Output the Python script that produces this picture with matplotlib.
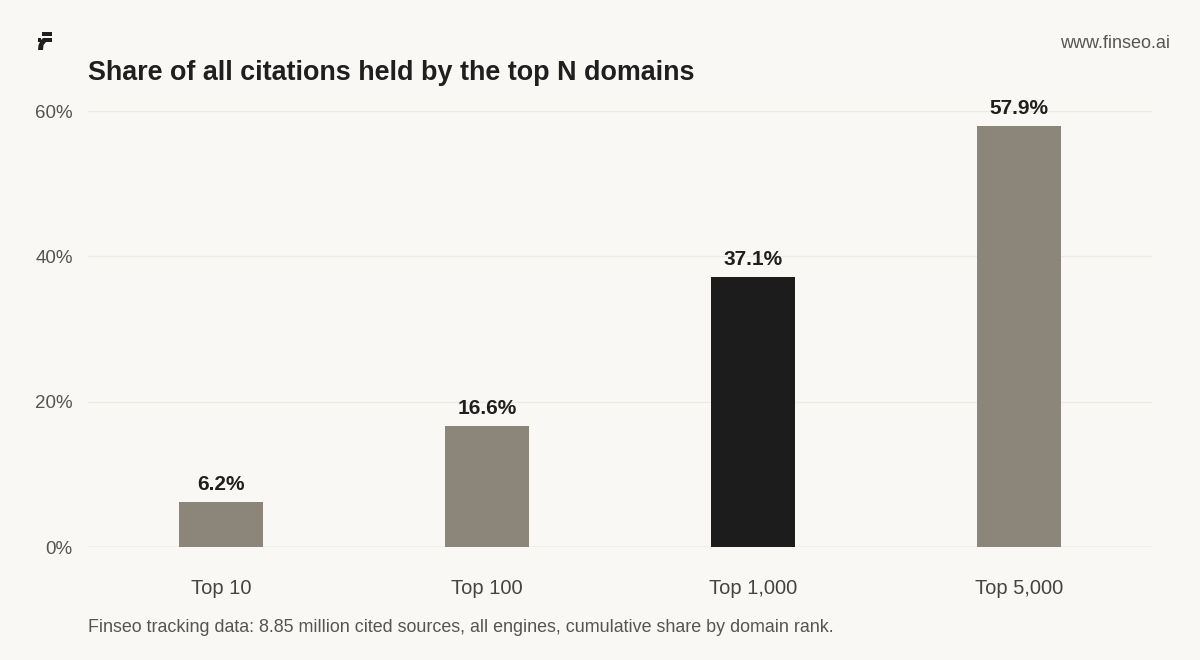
import numpy as np
import matplotlib as mpl
mpl.use('Agg')
import matplotlib.pyplot as plt
from matplotlib.ticker import FuncFormatter

categories = ['Top 10', 'Top 100', 'Top 1,000', 'Top 5,000']
share = [6.2, 16.6, 37.1, 57.9]
highlight = 'Top 1,000'
y_ticks = [0, 20, 40, 60]

title = 'Share of all citations held by the top N domains'
note = ('Finseo tracking data: 8.85 million cited sources, all engines, '
        'cumulative share by domain rank.')
site = 'www.finseo.ai'

bg = '#f9f8f4'
bar_c = '#8c857a'
hi_c = '#1c1c1c'
grid_c = '#eeebe5'
text_c = '#1f1f1f'
tick_c = '#555555'

W, H = 1200, 660

plt.rcParams['font.family'] = ['Liberation Sans', 'DejaVu Sans']

fig = plt.figure(figsize=(W/100, H/100), dpi=100, facecolor=bg)
ax = fig.add_axes([88/W, 1-547/H, (1152-88)/W, (547-111)/H])
ax.set_facecolor(bg)

x = np.arange(len(categories))
colors = [hi_c if c == highlight else bar_c for c in categories]
ax.bar(x, share, width=0.316, color=colors, zorder=3)

for xi, v in zip(x, share):
    ax.annotate('{:.1f}%'.format(v), (xi, v), xytext=(0, 6),
                textcoords='offset points', ha='center', va='bottom',
                fontsize=15, fontweight='bold', color=text_c,
                annotation_clip=False, zorder=4)

ax.set_xlim(-0.5, len(categories)-0.5)
ax.set_ylim(0, 60)
ax.set_yticks(y_ticks)
ax.yaxis.set_major_formatter(FuncFormatter(lambda v, p: '{:.0f}%'.format(v)))
ax.set_xticks(x)
ax.set_xticklabels(categories)
ax.tick_params(axis='y', length=0, pad=11, labelsize=13.5, labelcolor=tick_c)
ax.tick_params(axis='x', length=0, pad=23, labelsize=14.5, labelcolor='#444444')

ax.grid(axis='y', color=grid_c, lw=1, zorder=0)
ax.axhline(0, color='#dcd9d2', lw=1, zorder=2)
for s in ax.spines.values():
    s.set_visible(False)

fig.text(88/W, 1-73/H, title, fontsize=19.4, fontweight='bold',
         color=text_c, va='center', ha='left')
fig.text(1170/W, 1-43/H, site, fontsize=13, color='#555555',
         va='center', ha='right')
fig.text(88/W, 1-628/H, note, fontsize=12.9, color='#555555',
         va='center', ha='left')

# logo mark, pixel coords
def px(pts):
    return [(a/W, 1-b/H) for a, b in pts]

logo = [
    [(42, 32), (52, 32), (52, 36), (42, 36)],
    [(38, 38), (41, 38), (41, 42), (38, 42)],
    [(43, 38), (52, 38), (52, 42), (46, 42), (43.5, 45), (43, 50),
     (38, 50), (38.5, 45), (41, 40)],
]
for poly in logo:
    fig.patches.append(plt.Polygon(px(poly), closed=True,
                                   transform=fig.transFigure,
                                   color=text_c, lw=0))

fig.savefig('out.png', dpi=100, facecolor=bg)
